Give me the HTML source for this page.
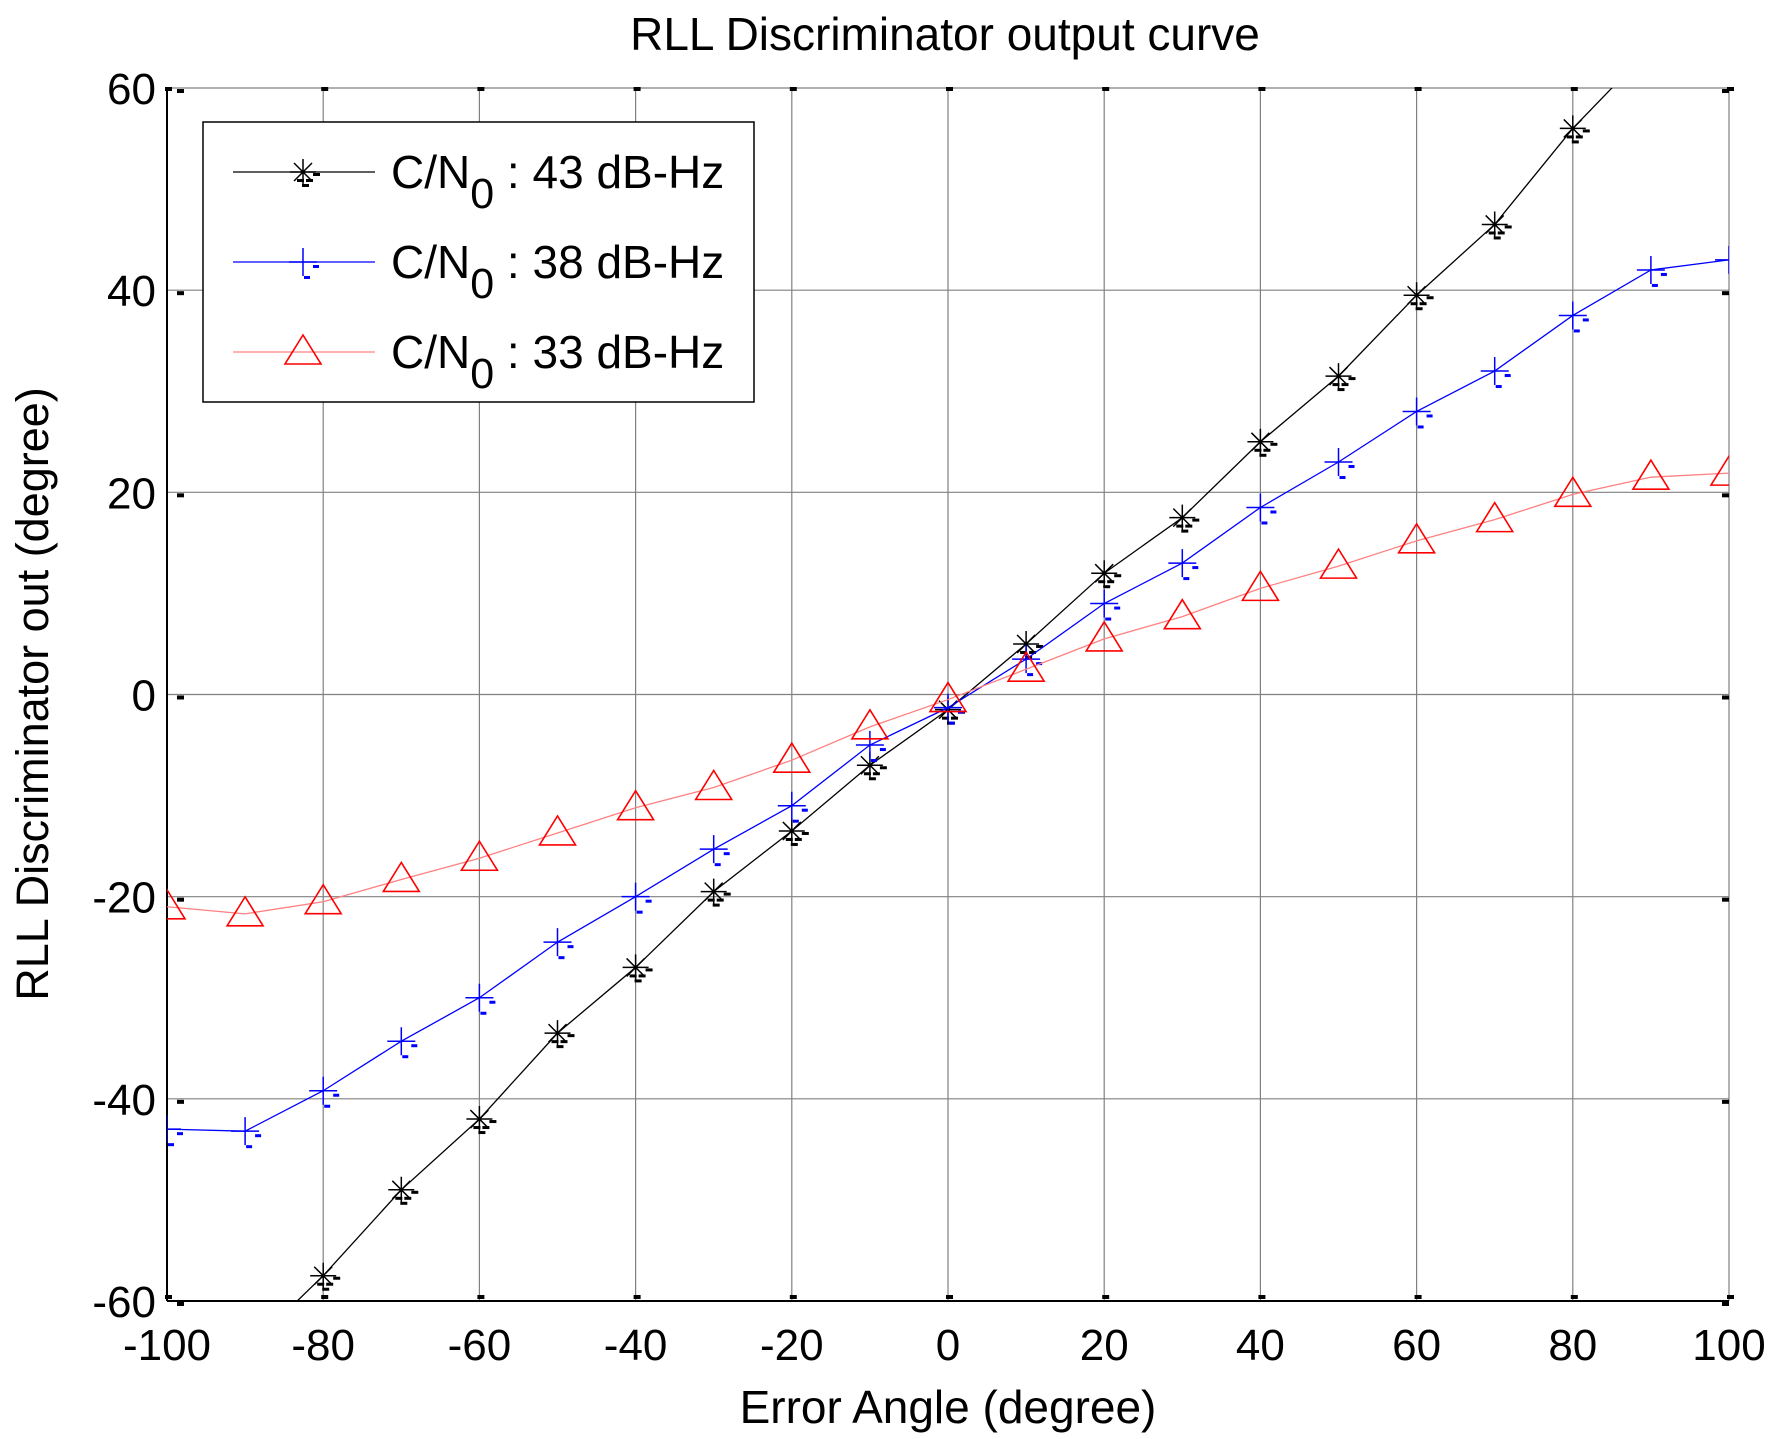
<!DOCTYPE html>
<html><head><meta charset="utf-8"><style>
html,body{margin:0;padding:0;background:#fff;}
svg{display:block;font-family:"Liberation Sans",Arial,sans-serif;}
</style></head><body>
<svg id="chart" width="1783" height="1439" viewBox="0 0 1783 1439" xmlns="http://www.w3.org/2000/svg">
<rect width="1783" height="1439" fill="#fff"/>
<text x="945" y="50" font-size="46" text-anchor="middle">RLL Discriminator output curve</text>
<g id="grid"></g>
<g id="axes"></g>
<g id="series"></g>
<g id="legend"></g>
<text x="948" y="1423" font-size="46" text-anchor="middle">Error Angle (degree)</text>
<text transform="translate(48,694) rotate(-90)" font-size="45" text-anchor="middle">RLL Discriminator out (degree)</text>
</svg>
<script>
const angles=[-100,-90,-80,-70,-60,-50,-40,-30,-20,-10,0,10,20,30,40,50,60,70,80,90,100];
const s43=[-72,-65,-57.5,-49,-42,-33.5,-27,-19.5,-13.5,-7,-1.5,5,12,17.5,25,31.5,39.5,46.5,56,64,72];
const s38=[-43,-43.2,-39.2,-34.3,-30,-24.5,-20,-15.3,-11,-5,-1.3,3.5,9,13,18.5,23,28,32,37.5,42,43];
const s33=[-21,-21.7,-20.5,-18.3,-16.2,-13.7,-11.2,-9.2,-6.5,-3.2,-0.5,2.5,5.5,7.7,10.5,12.7,15.2,17.3,19.8,21.5,21.9];
const xTicks=[-100,-80,-60,-40,-20,0,20,40,60,80,100];
const yTicks=[-60,-40,-20,0,20,40,60];
const legendLabels=["43","38","33"];

const NS="http://www.w3.org/2000/svg";
const L=167,R=1729,T=88,B=1301;
const X=v=>L+(v+100)/200*(R-L);
const Y=v=>B-(v+60)/120*(B-T);
function mk(tag,attrs,parent){const e=document.createElementNS(NS,tag);for(const k in attrs)e.setAttribute(k,attrs[k]);parent.appendChild(e);return e;}
const grid=document.getElementById('grid'),axes=document.getElementById('axes'),ser=document.getElementById('series'),leg=document.getElementById('legend');

xTicks.forEach(t=>{
  const g=mk('line',{x1:X(t),x2:X(t),y1:T,y2:B,stroke:'#808080','stroke-width':1.2},grid);
  
  
  mk('rect',{x:X(t)-2,y:T-1,width:7,height:4,fill:'#000'},axes);
  mk('rect',{x:X(t)-2,y:B-6,width:7,height:4,fill:'#000'},axes);
  const tx=mk('text',{x:X(t),y:1360,'font-size':44,'text-anchor':'middle'},axes);
  tx.textContent=t;
  
  
});
yTicks.forEach(t=>{
  const g=mk('line',{x1:L,x2:R,y1:Y(t),y2:Y(t),stroke:'#808080','stroke-width':1.2},grid);
  
  
  mk('rect',{x:L+10,y:Y(t)+1,width:7,height:4,fill:'#000'},axes);
  mk('rect',{x:R-7,y:Y(t)+1,width:7,height:4,fill:'#000'},axes);
  const tx=mk('text',{x:156,y:Y(t)+16,'font-size':44,'text-anchor':'end'},axes);
  tx.textContent=t;
  
  
});
const ax1=mk('line',{x1:L,x2:L,y1:T,y2:B,stroke:'#000','stroke-width':2},axes);


const ax2=mk('line',{x1:L,x2:R,y1:B,y2:B,stroke:'#000','stroke-width':2},axes);



const clip=mk('clipPath',{id:'pc'},document.getElementById('chart'));
mk('rect',{x:L,y:T,width:R-L,height:B-T},clip);

function star(g,x,y,c){const s=13;
  mk('path',{d:`M${x-s} ${y}H${x+s}M${x} ${y-s}V${y+s}M${x-9} ${y-9}L${x+9} ${y+9}M${x-9} ${y+9}L${x+9} ${y-9}`,stroke:c,'stroke-width':1.5,fill:'none'},g);
  [[10,1],[3,7],[-6,7],[-1,12]].forEach(o=>mk('rect',{x:x+o[0],y:y+o[1],width:7,height:3,fill:c},g));}
function plus(g,x,y,c){const s=14;
  mk('path',{d:`M${x-s} ${y}H${x+s}M${x} ${y-s}V${y+s}`,stroke:c,'stroke-width':1.5,fill:'none'},g);
  [[10,3],[1,14]].forEach(o=>mk('rect',{x:x+o[0],y:y+o[1],width:6,height:3,fill:c},g));}
function tri(g,x,y,c){
  mk('path',{d:`M${x} ${y-17}L${x+18} ${y+12}H${x-18}Z`,stroke:c,'stroke-width':1.6,fill:'none'},g);}

const lbg=mk('rect',{x:203,y:122,width:551,height:280,fill:'#fff'},leg);



const defs=[{d:s43,c:'#000',lc:'#000',m:star,n:'series-43dbhz'},{d:s38,c:'#0000ff',lc:'#0000ff',m:plus,n:'series-38dbhz'},{d:s33,c:'#ff0000',lc:'#ff8080',m:tri,n:'series-33dbhz'}];
defs.forEach((s,si)=>{
  const g=mk('g',{'clip-path':'url(#pc)'},ser);
  
  
  const pts=angles.map((a,i)=>X(a)+','+Y(s.d[i])).join(' ');
  const pl=mk('polyline',{points:pts,fill:'none',stroke:s.lc,'stroke-width':1.3},g);
  
  
  angles.forEach((a,i)=>{const mg=mk('g',{},g);
    
    
    s.m(mg,X(a),Y(s.d[i]),s.c);});
  const ly=172+si*90;
  const le=mk('g',{},leg);
  
  
  mk('line',{x1:233,x2:375,y1:ly,y2:ly,stroke:s.lc,'stroke-width':1.3},le);
  s.m(le,303,ly,s.c);
  const t=mk('text',{x:391,y:ly+16,'font-size':46},le);
  t.innerHTML='C/N<tspan font-size="43" dy="20">0</tspan><tspan dy="-20"> : '+legendLabels[si]+' dB-Hz</tspan>';
});
const lb=mk('rect',{x:203,y:122,width:551,height:280,fill:'none',stroke:'#000','stroke-width':1.5},leg);


</script>
</body></html>
